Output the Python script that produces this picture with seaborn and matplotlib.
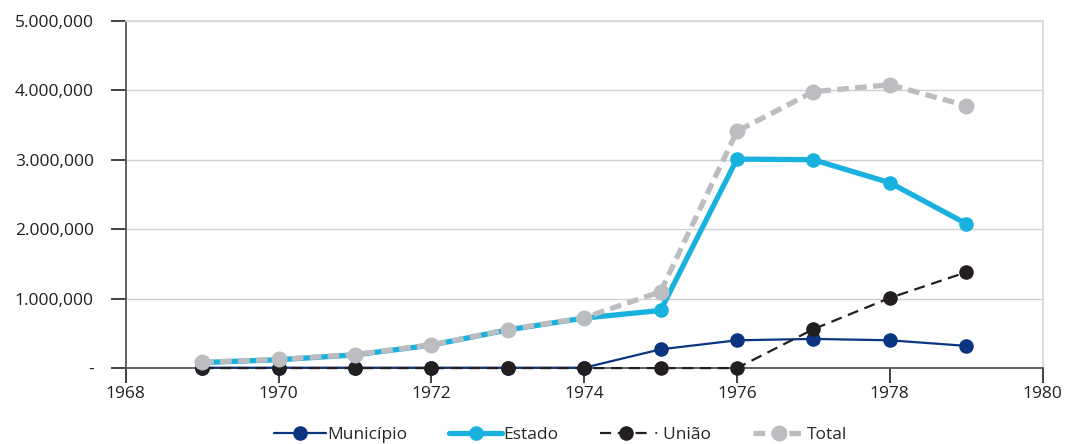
import numpy as np
import pandas as pd
import seaborn as sns
import matplotlib.pyplot as plt

# Values
anos = [1969, 1970, 1971, 1972, 1973, 1974, 1975, 1976, 1977, 1978, 1979]
municipio = [5000, 5000, 5000, 5000, 5000, 5000, 270000, 400000, 420000, 400000, 320000]
estado = [80000, 120000, 190000, 330000, 550000, 720000, 830000, 3010000, 3000000, 2670000, 2080000]
uniao = [0, 0, 0, 0, 0, 0, 0, 0, 560000, 1010000, 1380000]
total = [85000, 125000, 195000, 335000, 555000, 725000, 1100000, 3410000, 3980000, 4080000, 3780000]

y_ticks = [0, 1000000, 2000000, 3000000, 4000000, 5000000]
y_labels = ["-", "1.000,000", "2.000,000", "3.000,000", "4.000,000", "5.000,000"]
x_ticks = [1968, 1970, 1972, 1974, 1976, 1978, 1980]

sns.set_theme(style="white")
plt.rcParams['font.family'] = ['Open Sans', 'DejaVu Sans']

fig = plt.figure(figsize=(10.66, 4.44), dpi=100)
ax = fig.add_axes([0.118, 0.171, 0.86, 0.782])

series = [
    ("Município", municipio, "#0b3580", "-", 1.6, 10.5),
    ("Estado", estado, "#19b1de", "-", 3.8, 10.5),
    ("\u00b7 União", uniao, "#231f20", (0, (5, 3)), 1.6, 10.5),
    ("Total", total, "#bcbdc0", (0, (2.2, 1.2)), 3.8, 11.5),
]
for name, vals, color, ls, lw, ms in series:
    df = pd.DataFrame({"ano": anos, "valor": vals})
    sns.lineplot(data=df, x="ano", y="valor", ax=ax, color=color, linestyle=ls,
                 linewidth=lw, marker="o", markersize=ms, markeredgewidth=0,
                 label=name, clip_on=False, zorder=3)

ax.set_xlim(1968, 1980)
ax.set_ylim(0, 5000000)
ax.set_xticks(x_ticks)
ax.set_yticks(y_ticks)
ax.set_yticklabels(y_labels)
ax.set_xlabel("")
ax.set_ylabel("")
ax.yaxis.grid(True, color="#d0d0d0", linewidth=1)
ax.set_axisbelow(True)

for s in ["left", "bottom"]:
    ax.spines[s].set_color("#555555")
    ax.spines[s].set_linewidth(1.3)
for s in ["right", "top"]:
    ax.spines[s].set_color("#d9d9d9")
    ax.spines[s].set_linewidth(1.3)

ax.tick_params(axis="both", which="both", direction="out", length=11, width=1.3,
               color="#333333", labelsize=12.5, labelcolor="#231f20", pad=2,
               bottom=True, left=True)
ax.tick_params(axis="y", pad=12)

ax.legend(loc="upper center", bbox_to_anchor=(0.474, -0.125), ncol=4, frameon=False,
          fontsize=12.5, handlelength=3.0, columnspacing=2.4, handletextpad=0.1)

fig.savefig("out.png", dpi=100)
